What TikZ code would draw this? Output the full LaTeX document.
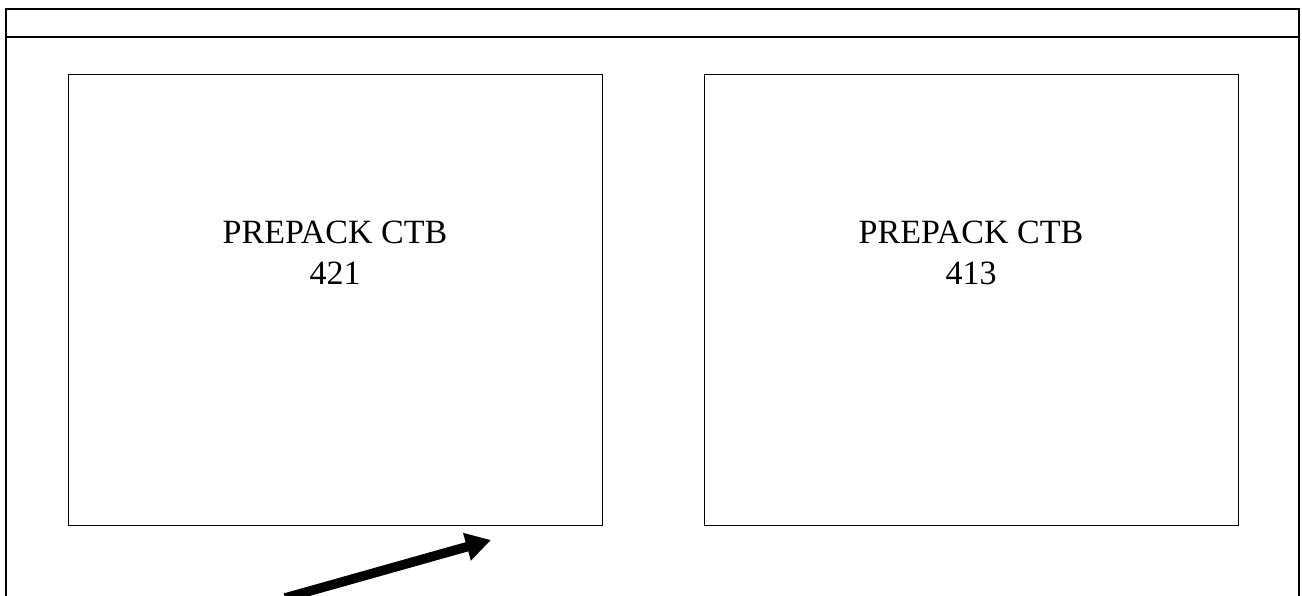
\documentclass[tikz,border=0pt]{standalone}
\usepackage{fontspec}
\setmainfont{Liberation Serif}
\usetikzlibrary{arrows.meta}
\begin{document}
\begin{tikzpicture}[x=1pt,y=-1pt,
  frame/.style={draw=black,line width=1.3pt},
  panel/.style={draw=black,line width=1pt},
  lbl/.style={font=\fontsize{34}{41}\selectfont,align=center,anchor=base,inner sep=0pt},
  bigarrow/.style={line width=9.5pt,-{Triangle[length=25pt,width=27pt]}}]
\useasboundingbox (0,0) rectangle (1302,596);
\clip (0,0) rectangle (1302,596);
\draw[frame] (6,9) rectangle (1299,610);
\draw[frame] (6,37) -- (1299,37);
\draw[panel] (68,75) rectangle (602,525);
\draw[panel] (704,75) rectangle (1238,525);
\node[lbl] (t1) at (335,244) {PREPACK CTB};
\node[lbl] (n1) at (335,285) {421};
\node[lbl] (t2) at (971,244) {PREPACK CTB};
\node[lbl] (n2) at (971,285) {413};
\coordinate (as) at (285,598);
\coordinate (ae) at (491,540);
\draw[bigarrow] (as) -- (ae);
\end{tikzpicture}
\end{document}
